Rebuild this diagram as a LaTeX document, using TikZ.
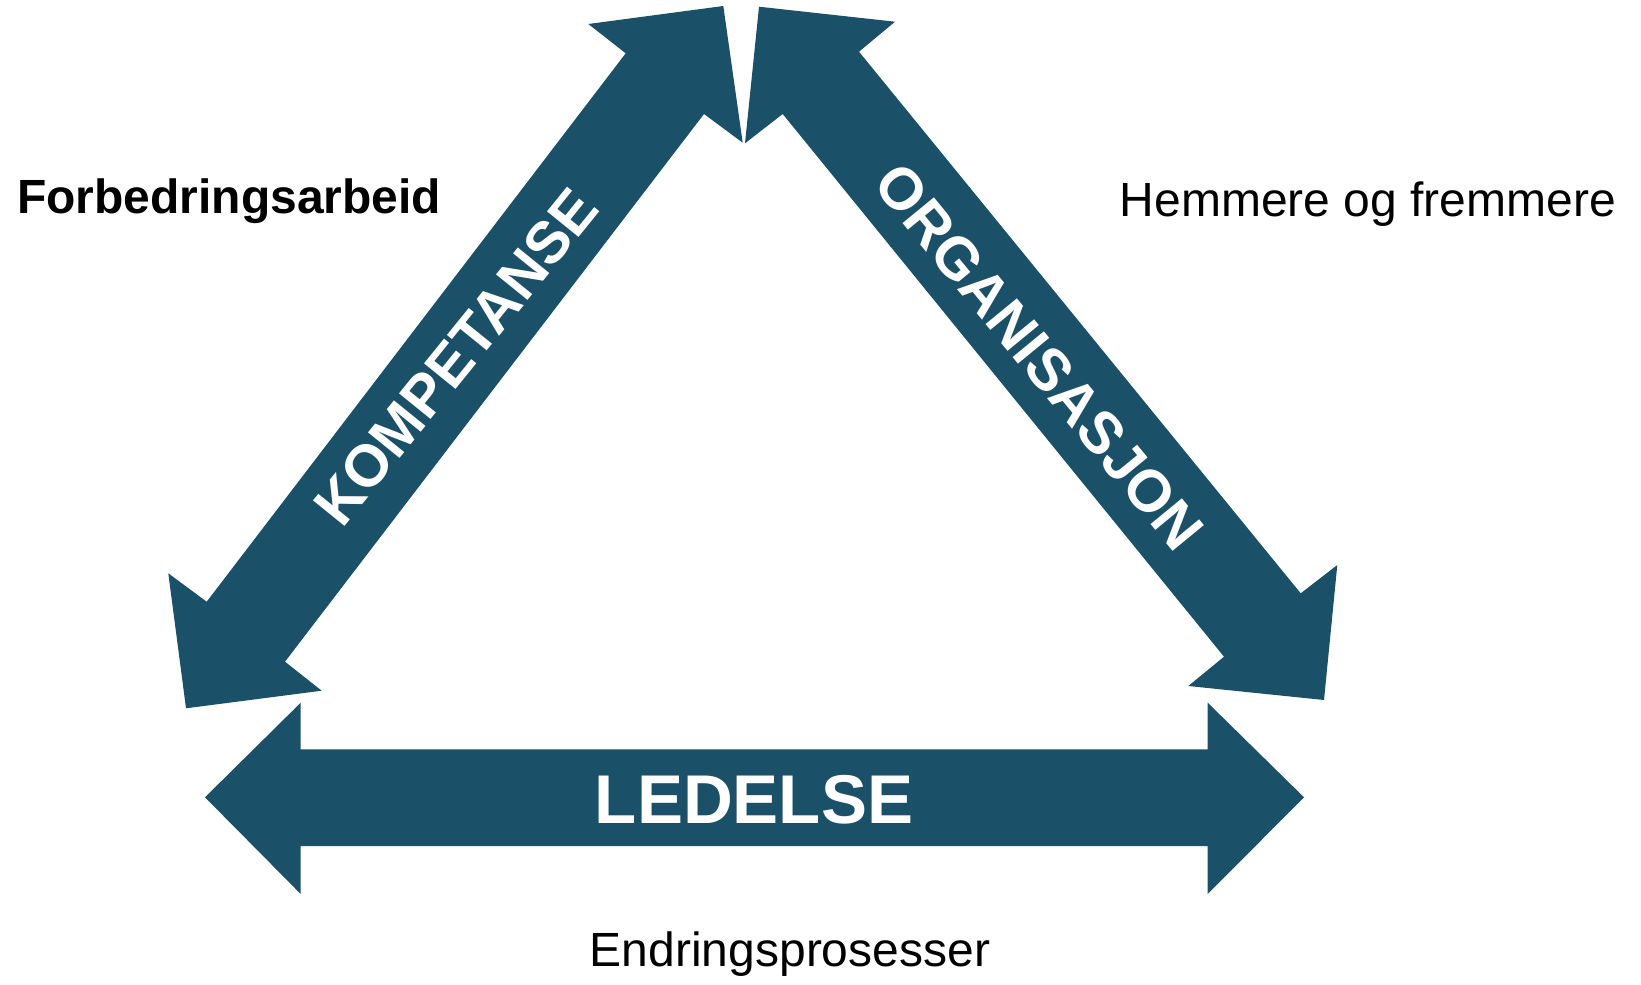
\documentclass[tikz,border=0pt]{standalone}
\usepackage{fontspec}
\setmainfont{Liberation Sans}
\definecolor{teal}{RGB}{27,80,105}
\tikzset{
  bigarrow/.style={fill=teal, draw=none},
  label/.style={inner sep=0pt, text=black},
  arrowtext/.style={inner sep=0pt, text=white, font=\bfseries\fontsize{59}{60}\selectfont}
}
\begin{document}
\begin{tikzpicture}[x=1pt,y=-1pt]
\useasboundingbox (0,0) rectangle (1641,985);
% KOMPETANSE arrow (two-headed, diagonal left)
\fill[bigarrow] (723.3,6) -- (588.3,24) -- (625.7,53.3) -- (206.7,601.7) -- (168.3,573.3)
  -- (186,708.3) -- (321.7,690.7) -- (285,661.7) -- (704,114) -- (742.7,142.7) -- cycle;
% ORGANISASJON arrow (two-headed, diagonal right)
\fill[bigarrow] (759,6.7) -- (895,21.7) -- (859,51.7) -- (1300.7,593.3) -- (1337.3,565)
  -- (1324,700) -- (1188.3,686) -- (1224,656.7) -- (782.7,114) -- (745,143.3) -- cycle;
% LEDELSE arrow (two-headed, horizontal)
\fill[bigarrow] (205,797.3) -- (300.7,702.7) -- (300.7,749.3) -- (1207.7,749.3) -- (1207.7,702.7)
  -- (1304,797.3) -- (1207.7,894) -- (1207.7,846) -- (300.7,846) -- (300.7,894) -- cycle;
% arrow labels
\node[arrowtext, rotate=51] (komp) at (456,357) {KOMPETANSE};
\node[arrowtext, rotate=-50.6] (org) at (1039,357) {ORGANISASJON};
\node[arrowtext, font=\bfseries\fontsize{69}{70}\selectfont, anchor=base] (led) at (754,823.3) {LEDELSE};
% outer labels
\node[label, anchor=base west, font=\bfseries\fontsize{48}{50}\selectfont] (forb) at (17,213) {Forbedringsarbeid};
\node[label, anchor=base, font=\fontsize{48}{50}\selectfont] (hemm) at (1368,216) {Hemmere og fremmere};
\node[label, anchor=base, font=\fontsize{48}{50}\selectfont] (endr) at (790,966.7) {Endringsprosesser};
\end{tikzpicture}
\end{document}
